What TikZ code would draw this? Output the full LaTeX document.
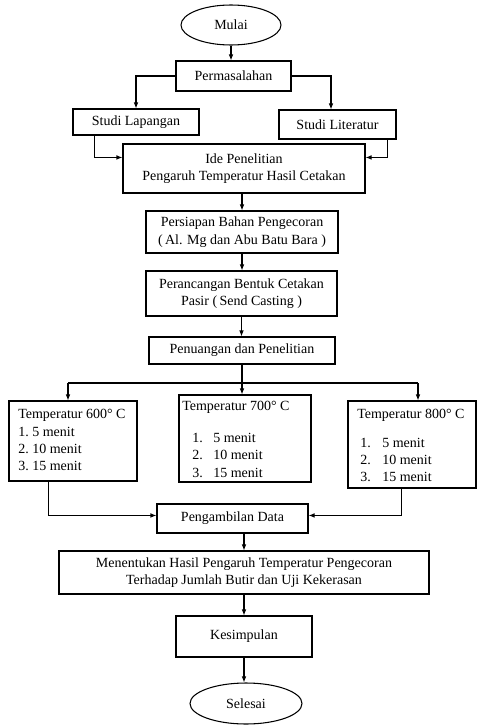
\documentclass[tikz,border=0pt]{standalone}
\usepackage{fontspec}
\setmainfont{Liberation Serif}
\usetikzlibrary{arrows.meta,calc,shapes.geometric}
\begin{document}
\begin{tikzpicture}[x=0.75pt,y=-0.75pt,
  every node/.style={font=\fontsize{10.5}{13}\selectfont},
  box/.style={draw,line width=0.8pt,rectangle,inner sep=0pt,align=center},
  oval/.style={draw,line width=0.8pt,ellipse,inner sep=0pt},
  lbl/.style={inner sep=0pt,anchor=west},
  arr/.style={line width=0.8pt,-{Latex[length=4.5pt,width=3.5pt]}},
  ln/.style={line width=0.8pt}]
\useasboundingbox (0,0) rectangle (477,725);
% nodes
\node[oval,minimum width=75pt,minimum height=30pt] (mulai) at (231,25) {Mulai};
\node[box,minimum width=86.25pt,minimum height=22.5pt] (perm) at (233.5,76) {Permasalahan};
\node[box,minimum width=94.5pt,minimum height=19.5pt] (sl) at (136,122) {Studi Lapangan};
\node[box,minimum width=87.75pt,minimum height=21.75pt] (slit) at (337.5,124.5) {Studi Literatur};
\node[box,minimum width=181.5pt,minimum height=36.75pt] (ide) at (244,168.5) {Ide Penelitian\\Pengaruh Temperatur Hasil Cetakan};
\node[box,minimum width=144pt,minimum height=31.5pt] (pers) at (242,232) {Persiapan Bahan Pengecoran\\(\,Al. Mg dan Abu Batu Bara )};
\node[box,minimum width=143.25pt,minimum height=33.75pt] (peran) at (241.5,293.5) {Perancangan Bentuk Cetakan\\Pasir (\,Send Casting )};
\node[box,minimum width=139.5pt,minimum height=20.25pt] (pen) at (242,350.5) {Penuangan dan Penelitian};
\node[box,minimum width=96pt,minimum height=60pt] (t600) at (73,441) {};
\node[box,minimum width=99pt,minimum height=65.25pt] (t700) at (245,438.5) {};
\node[box,minimum width=96pt,minimum height=65.25pt] (t800) at (412,444.5) {};
\node[box,minimum width=113.25pt,minimum height=21.75pt] (peng) at (232.5,518.5) {Pengambilan Data};
\node[box,minimum width=277.5pt,minimum height=32.25pt] (ment) at (244,572.5) {Menentukan Hasil Pengaruh Temperatur Pengecoran\\Terhadap Jumlah Butir dan Uji Kekerasan};
\node[box,minimum width=102pt,minimum height=30.75pt] (kes) at (244,636.5) {Kesimpulan};
\node[oval,minimum width=84pt,minimum height=30.75pt] (sel) at (246,703.5) {Selesai};
% temperature texts
\node[lbl] (t6t) at (18,415) {Temperatur 600° C};
\node[lbl] (t6a) at (18,432) {\makebox[10.5pt][l]{1.}5 menit};
\node[lbl] (t6b) at (18,449) {\makebox[10.5pt][l]{2.}10 menit};
\node[lbl] (t6c) at (18,466) {\makebox[10.5pt][l]{3.}15 menit};
\node[lbl] (t7t) at (182,407) {Temperatur 700° C};
\node[lbl] (t7a) at (192,438) {\makebox[15.75pt][l]{1.}5 menit};
\node[lbl] (t7b) at (192,455) {\makebox[15.75pt][l]{2.}10 menit};
\node[lbl] (t7c) at (192,473) {\makebox[15.75pt][l]{3.}15 menit};
\node[lbl] (t8t) at (357,415) {Temperatur 800° C};
\node[lbl] (t8a) at (360,443) {\makebox[16.5pt][l]{1.}5 menit};
\node[lbl] (t8b) at (360,460) {\makebox[16.5pt][l]{2.}10 menit};
\node[lbl] (t8c) at (360,477) {\makebox[16.5pt][l]{3.}15 menit};
% coordinates
\coordinate (split) at (242,383);
\coordinate (bl) at (68,383);
\coordinate (br) at (418,383);
% connectors
\draw[arr] (mulai.south) -- (mulai.south |- perm.north);
\draw[arr] (perm.west) -| (sl.north);
\draw[arr] (perm.east) -| ($(slit.north)+(-6.5,0)$);
\draw[arr] ($(sl.south west)+(22,0)$) |- ($(ide.north west)+(0,14)$);
\draw[arr] ($(slit.south east)+(-9,0)$) |- ($(ide.north east)+(0,14)$);
\draw[arr] ($(ide.south)+(-2,0)$) -- ($(pers.north)+(0,0)$);
\draw[arr] (pers.south) -- (pers.south |- peran.north);
\draw[arr] (peran.south) -- (peran.south |- pen.north);
\draw[ln] (pen.south) -- (split);
\draw[ln] (bl) -- (br);
\draw[arr] (bl) -- (bl |- t600.north);
\draw[arr] (split) -- (split |- t700.north);
\draw[arr] (br) -- (br |- t800.north);
\draw[arr] ($(t600.south west)+(40,0)$) |- ($(peng.north west)+(0,12)$);
\draw[arr] ($(t800.south west)+(54,0)$) |- ($(peng.north east)+(0,12)$);
\draw[arr] (ment.north |- peng.south) -- (ment.north);
\draw[arr] (ment.south) -- (kes.north);
\draw[arr] (kes.south) -- (kes.south |- sel.north);
\end{tikzpicture}
\end{document}
